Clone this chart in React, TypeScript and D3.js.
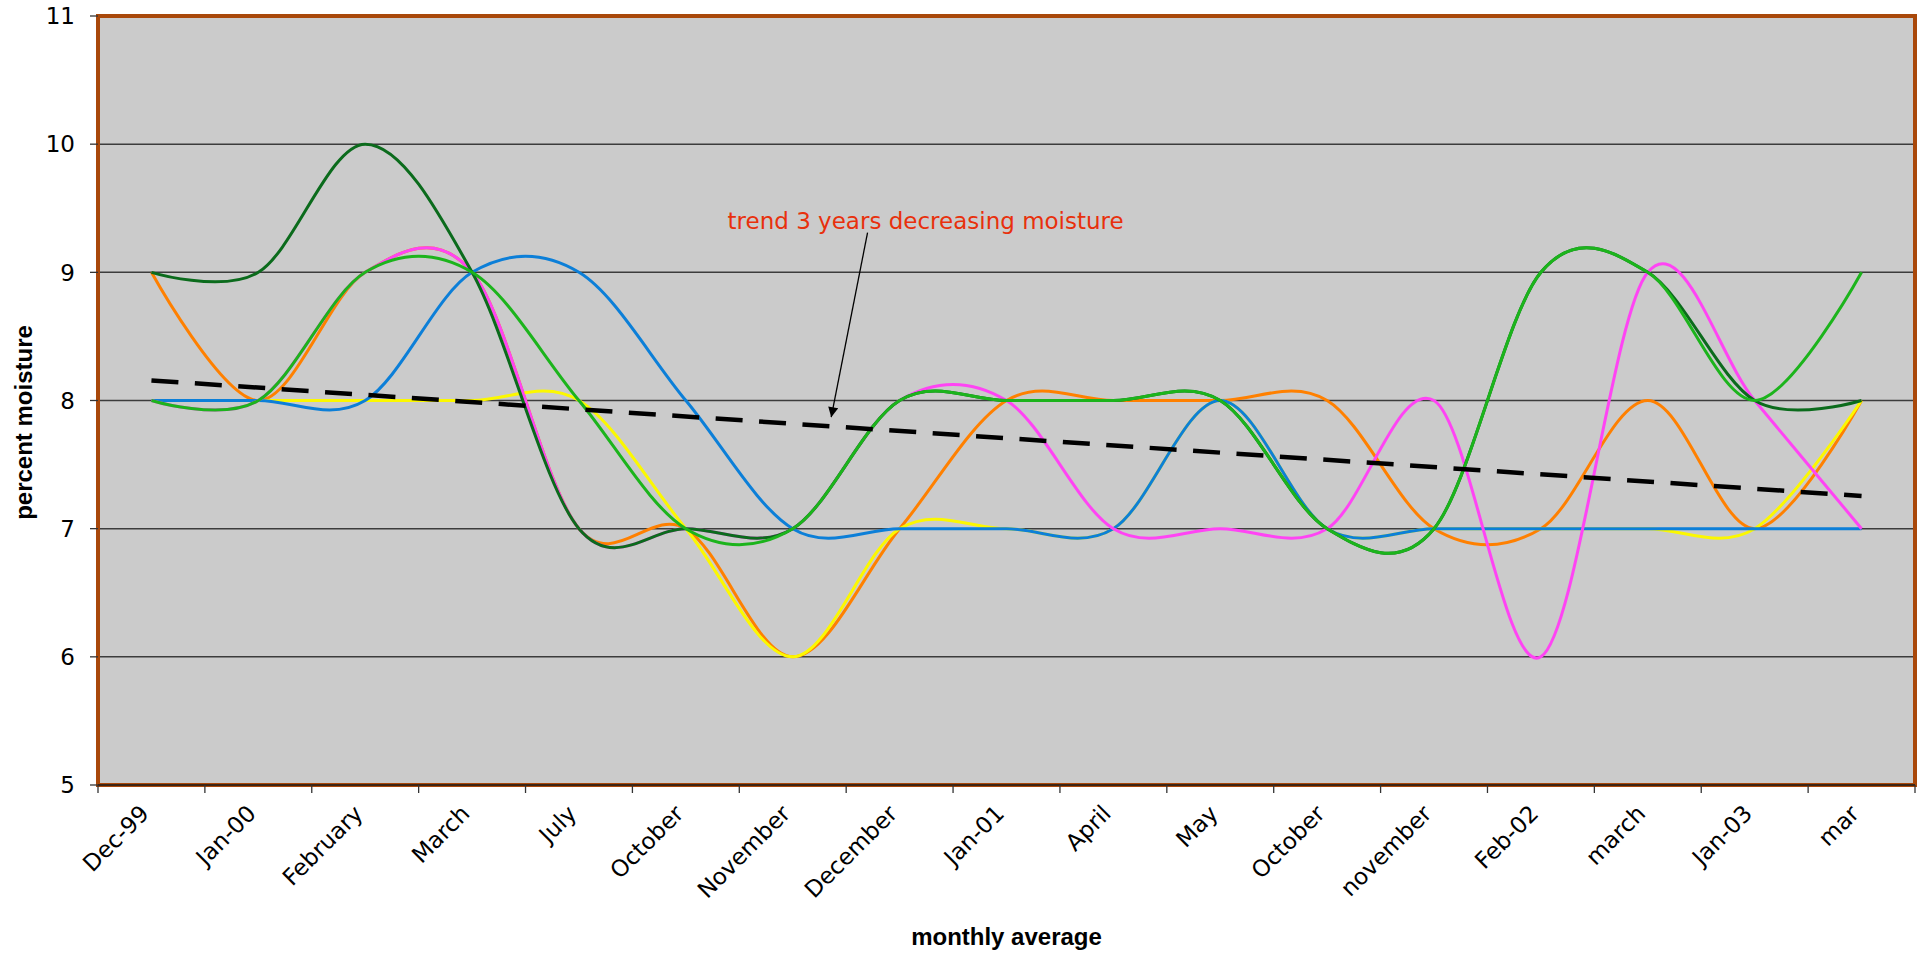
import React from "react";
import * as d3 from "d3";

// monthly average soil moisture, six sensors
const categories = [
  "Dec-99", "Jan-00", "February", "March", "July", "October", "November",
  "December", "Jan-01", "April", "May", "October", "november", "Feb-02",
  "march", "Jan-03", "mar",
];

const blueValues = [8, 8, 8, 9, 9, 8, 7, 7, 7, 7, 8, 7, 7, 7, 7, 7, 7];
const orangeValues = [9, 8, 9, 9, 7, 7, 6, 7, 8, 8, 8, 8, 7, 7, 8, 7, 8];
const yellowValues = [8, 8, 8, 8, 8, 7, 6, 7, 7, 7, 8, 7, 7, 7, 7, 7, 8];
const magentaValues = [8, 8, 9, 9, 7, 7, 7, 8, 8, 7, 7, 7, 8, 6, 9, 8, 7];
const darkGreenValues = [9, 9, 10, 9, 7, 7, 7, 8, 8, 8, 8, 7, 7, 9, 9, 8, 8];
const lightGreenValues = [8, 8, 9, 9, 8, 7, 7, 8, 8, 8, 8, 7, 7, 9, 9, 8, 9];

const yTicks = [5, 6, 7, 8, 9, 10, 11];

// drawing order: bottom to top
const series = [
  { name: "orange", values: orangeValues, color: "#ff8000" },
  { name: "yellow", values: yellowValues, color: "#fcf800" },
  { name: "blue", values: blueValues, color: "#0c7fd8" },
  { name: "magenta", values: magentaValues, color: "#ff44f4" },
  { name: "darkGreen", values: darkGreenValues, color: "#0b6b1c" },
  { name: "lightGreen", values: lightGreenValues, color: "#1cb41c" },
];

const W = 1920;
const H = 953;
const left = 98;
const right = 1915;
const top = 16;
const bottom = 785;

const tickFont = "'DejaVu Sans', Verdana, sans-serif";
const titleFont = "'Liberation Sans', Arial, sans-serif";

const App = () => {
  const idx = d3.range(categories.length);
  const x = d3.scaleBand<number>().domain(idx).range([left, right]);
  const cx = (i: number) => (x(i) as number) + x.bandwidth() / 2;
  // fractional index -> pixel (for the annotation)
  const xi = d3.scaleLinear().domain([0, categories.length - 1]).range([cx(0), cx(categories.length - 1)]);
  const y = d3.scaleLinear().domain([5, 11]).range([bottom, top]);

  const line = d3
    .line<number>()
    .x((_, i) => cx(i))
    .y((d) => y(d))
    .curve(d3.curveCardinal.tension(0));

  // linear trendline (least squares) of the orange series
  const mx = d3.mean(idx) as number;
  const my = d3.mean(orangeValues) as number;
  const slope =
    d3.sum(idx, (i) => (i - mx) * (orangeValues[i] - my)) /
    d3.sum(idx, (i) => (i - mx) * (i - mx));
  const trend = (i: number) => my + slope * (i - mx);
  const last = categories.length - 1;

  const ticksX = d3.range(categories.length + 1).map((k) => left + k * x.bandwidth());

  // annotation anchor points (index, value)
  const noteText = { i: 5.39, v: 9.34 };
  const noteFrom = { i: 6.7, v: 9.31 };
  const noteTip = { i: 6.36, v: 7.87 };

  return (
    <svg
      width={W}
      height={H}
      style={{ position: "absolute", left: 0, top: 0, background: "#ffffff" }}
    >
      <defs>
        <marker
          id="arrow"
          viewBox="0 0 10 10"
          refX="10"
          refY="5"
          markerWidth="11"
          markerHeight="10"
          markerUnits="userSpaceOnUse"
          orient="auto"
        >
          <path d="M0,0 L10,5 L0,10 Z" fill="#000" />
        </marker>
      </defs>

      <rect x={left} y={top} width={right - left} height={bottom - top} fill="#cbcbcb" />

      {yTicks
        .filter((t) => t > 5 && t < 11)
        .map((t) => (
          <line key={"g" + t} x1={left} x2={right} y1={y(t)} y2={y(t)} stroke="#3c3c3c" strokeWidth={1.5} />
        ))}

      {series.map((s) => (
        <path key={s.name} d={line(s.values) || ""} fill="none" stroke={s.color} strokeWidth={3} />
      ))}

      <line
        x1={cx(0)}
        y1={y(trend(0))}
        x2={cx(last)}
        y2={y(trend(last))}
        stroke="#000"
        strokeWidth={4.5}
        strokeDasharray="27,16.5"
      />

      <text
        x={xi(noteText.i)}
        y={y(noteText.v)}
        fill="#e8300c"
        fontFamily={tickFont}
        fontSize={23}
      >
        trend 3 years decreasing moisture
      </text>
      <line
        x1={xi(noteFrom.i)}
        y1={y(noteFrom.v)}
        x2={xi(noteTip.i)}
        y2={y(noteTip.v)}
        stroke="#000"
        strokeWidth={1.3}
        markerEnd="url(#arrow)"
      />

      <rect
        x={left}
        y={top}
        width={right - left}
        height={bottom - top}
        fill="none"
        stroke="#a9480a"
        strokeWidth={4}
      />
      <line x1={left} x2={right} y1={bottom} y2={bottom} stroke="#1a1a1a" strokeWidth={1.6} />

      {yTicks.map((t) => (
        <g key={"y" + t}>
          <line x1={left - 8} x2={left} y1={y(t)} y2={y(t)} stroke="#333" strokeWidth={1.3} />
          <text
            x={75}
            y={y(t)}
            dy="0.36em"
            textAnchor="end"
            fontFamily={tickFont}
            fontSize={23}
            fill="#000"
          >
            {t}
          </text>
        </g>
      ))}

      {ticksX.map((tx, k) => (
        <line key={"t" + k} x1={tx} x2={tx} y1={bottom} y2={bottom + 8} stroke="#333" strokeWidth={1.3} />
      ))}

      {categories.map((c, i) => (
        <text
          key={"c" + i}
          transform={`translate(${cx(i) - 1},${bottom + 30}) rotate(-45)`}
          textAnchor="end"
          fontFamily={tickFont}
          fontSize={23}
          fill="#000"
        >
          {c}
        </text>
      ))}

      <text
        x={(left + right) / 2}
        y={945}
        textAnchor="middle"
        fontFamily={titleFont}
        fontWeight="bold"
        fontSize={24}
        fill="#000"
      >
        monthly average
      </text>
      <text
        transform={`translate(32,${(top + bottom) / 2 + 22}) rotate(-90)`}
        textAnchor="middle"
        fontFamily={titleFont}
        fontWeight="bold"
        fontSize={24}
        fill="#000"
      >
        percent moisture
      </text>
    </svg>
  );
};

export default App;
